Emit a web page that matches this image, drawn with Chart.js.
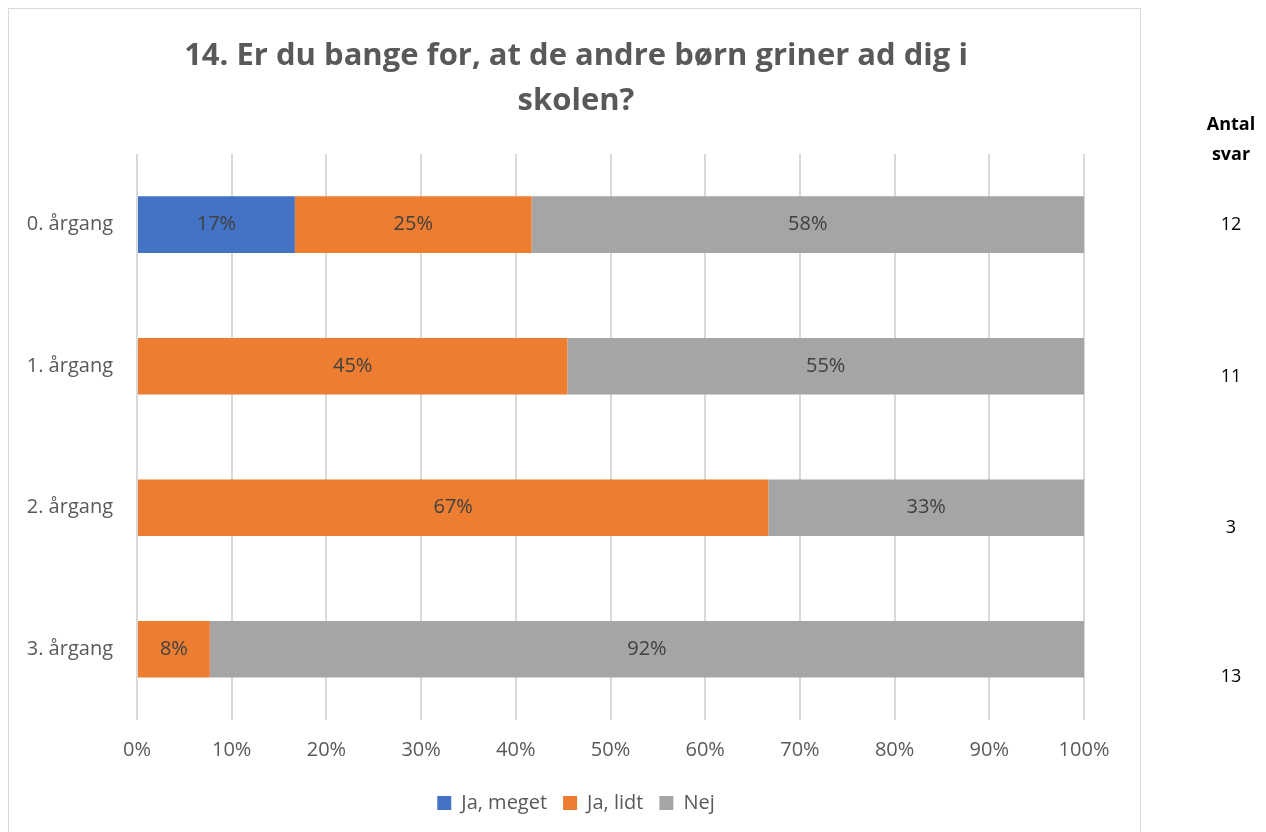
<!DOCTYPE html>
<html>
<head>
<meta charset="utf-8">
<script src="https://cdn.jsdelivr.net/npm/chart.js@4.4.1/dist/chart.umd.min.js"></script>
<style>
  body { margin: 0; background: #fff; font-family: "Open Sans", sans-serif; }
  #wrap { position: relative; width: 1266px; height: 832px; overflow: hidden; }
  #frame { position: absolute; left: 8px; top: 8px; width: 1131px; height: 840px; border: 1px solid #d9d9d9; }
  canvas { position: absolute; left: 0; top: 0; }
  .side { position: absolute; left: 1181px; width: 100px; text-align: center; color: #000; font-size: 18px; }
  .side.head { font-weight: bold; line-height: 30px; }
</style>
</head>
<body>
<div id="wrap">
  <div id="frame"></div>
  <canvas id="chart" width="1266" height="832"></canvas>
  <div class="side head" style="top:108px">Antal<br>svar</div>
  <div id="counts"></div>
</div>
<script>
// data
const categories = ['0. årgang', '1. årgang', '2. årgang', '3. årgang'];
const jaMeget = [16.67, 0, 0, 0];
const jaLidt = [25, 45.45, 66.67, 7.69];
const nej = [58.33, 54.55, 33.33, 92.31];
const antalSvar = [12, 11, 3, 13];
const xTicks = [0, 10, 20, 30, 40, 50, 60, 70, 80, 90, 100];

// antal svar kolonne
const countTops = [211, 363, 514, 663];
const countsDiv = document.getElementById('counts');
antalSvar.forEach((n, i) => {
  const d = document.createElement('div');
  d.className = 'side';
  d.style.top = countTops[i] + 'px';
  d.textContent = n;
  countsDiv.appendChild(d);
});

// labels inde i bjælkerne
const barLabels = {
  id: 'barLabels',
  afterDatasetsDraw(chart) {
    const ctx = chart.ctx;
    ctx.save();
    ctx.font = '20px "Open Sans"';
    ctx.fillStyle = '#404040';
    ctx.textAlign = 'center';
    ctx.textBaseline = 'middle';
    chart.data.datasets.forEach((ds, di) => {
      const meta = chart.getDatasetMeta(di);
      meta.data.forEach((bar, i) => {
        const v = ds.data[i];
        if (!v) return;
        const p = bar.getProps(['x', 'y', 'base'], true);
        ctx.fillText(Math.round(v) + '%', (p.x + p.base) / 2, p.y);
      });
    });
    ctx.restore();
  }
};

const ctx = document.getElementById('chart').getContext('2d');
new Chart(ctx, {
  type: 'bar',
  data: {
    labels: categories,
    datasets: [
      { label: 'Ja, meget', data: jaMeget, backgroundColor: '#4472C4' },
      { label: 'Ja, lidt', data: jaLidt, backgroundColor: '#ED7D31' },
      { label: 'Nej', data: nej, backgroundColor: '#A5A5A5' }
    ]
  },
  options: {
    indexAxis: 'y',
    responsive: false,
    animation: false,
    barPercentage: 0.4,
    categoryPercentage: 1,
    layout: { padding: { left: 20, right: 134, top: 0, bottom: 9 } },
    scales: {
      x: {
        stacked: true,
        min: 0,
        max: 100,
        afterBuildTicks: s => { s.ticks = xTicks.map(v => ({ value: v })); },
        afterFit: s => { s.height = 57; },
        grid: { color: '#d9d9d9', lineWidth: 2, drawTicks: false },
        border: { display: false },
        ticks: {
          padding: 18,
          color: '#595959',
          font: { family: 'Open Sans', size: 20 },
          callback: v => v + '%'
        }
      },
      y: {
        stacked: true,
        afterFit: s => { s.width = 117; },
        grid: { display: false, drawTicks: false },
        border: { display: false },
        ticks: {
          padding: 24,
          color: '#595959',
          font: { family: 'Open Sans', size: 20 }
        }
      },
      y2: {
        position: 'right',
        afterFit: s => { s.width = 48; },
        grid: { display: false, drawTicks: false },
        border: { display: false },
        ticks: { display: false }
      }
    },
    plugins: {
      title: {
        display: true,
        text: ['14. Er du bange for, at de andre børn griner ad dig i', 'skolen?'],
        color: '#595959',
        font: { family: 'Open Sans', size: 31, weight: 'bold', lineHeight: 1.45 },
        padding: { top: 34, bottom: 30 }
      },
      legend: {
        position: 'bottom',
        labels: {
          boxWidth: 14,
          boxHeight: 14,
          padding: 16,
          color: '#595959',
          font: { family: 'Open Sans', size: 20 }
        }
      },
      tooltip: { enabled: false }
    }
  },
  plugins: [barLabels]
});
</script>
</body>
</html>
